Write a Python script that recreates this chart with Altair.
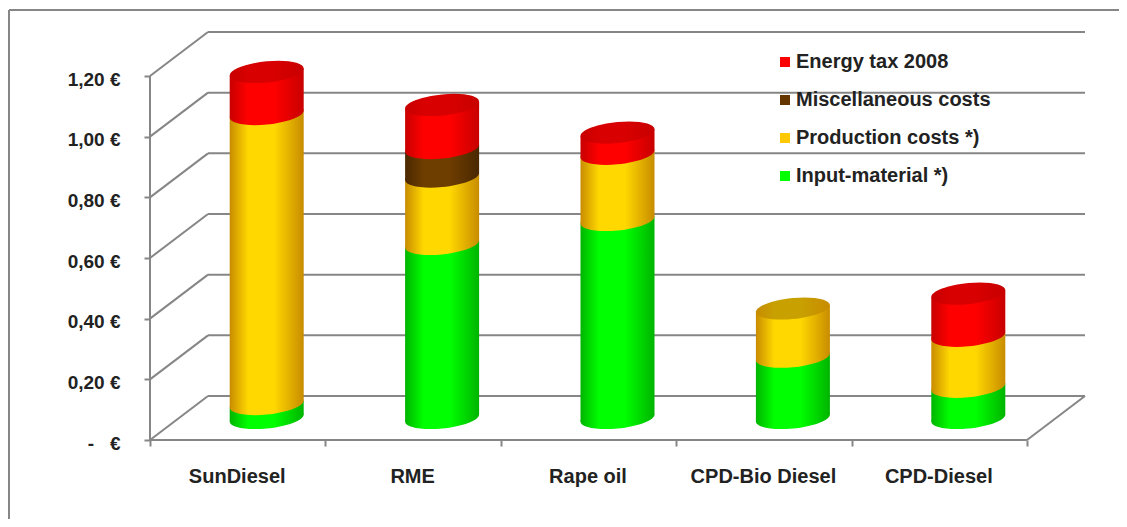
import json
import altair as alt
import pandas as pd

categories = ["SunDiesel", "RME", "Rape oil", "CPD-Bio Diesel", "CPD-Diesel"]
input_material = [0.046, 0.574, 0.653, 0.202, 0.103]
production = [0.956, 0.222, 0.218, 0.159, 0.168]
misc = [0.0, 0.094, 0.0, 0.0, 0.0]
energy_tax = [0.139, 0.142, 0.070, 0.0, 0.139]
tick_values = [0, 0.2, 0.4, 0.6, 0.8, 1.0, 1.2]
tick_labels = ["-\u00a0\u00a0\u00a0€", "0,20 €", "0,40 €", "0,60 €", "0,80 €", "1,00 €", "1,20 €"]

series = [
    ("Input-material *)", input_material, "#00ff00", "#00b400", "#00e000"),
    ("Production costs *)", production, "#ffd800", "#c88c00", "#c8a000"),
    ("Miscellaneous costs", misc, "#6e3d00", "#4a2800", "#5a3000"),
    ("Energy tax 2008", energy_tax, "#ff0000", "#c80000", "#d80000"),
]
legend_order = ["Energy tax 2008", "Miscellaneous costs", "Production costs *)", "Input-material *)"]
legend_colors = ["#ff0000", "#653500", "#ffc800", "#00ff00"]

FONT = "Liberation Sans"
GRAY = "#868686"
TEXT = "#222222"
FS = 20
W, H = 937, 408
CAT_PX = 175.4
UNIT_PX = 303.33
DX = 58 / CAT_PX          # depth of the wall, in category widths
DY = 44 / UNIT_PX         # depth of the wall, in value units
HALF_W = 37 / CAT_PX      # half cylinder width
TILT = 3.5 / UNIT_PX      # rise of the ellipse's right end


def ellipse_path(a=0.285, s=0.095, k=0.5523):
    c = (1.0, -s)
    d = (0.0, a)
    def p(u, v):
        return f"{c[0]*u + d[0]*v:.4f},{c[1]*u + d[1]*v:.4f}"
    return (
        f"M{p(1,0)} C{p(1,k)} {p(k,1)} {p(0,1)} C{p(-k,1)} {p(-1,k)} {p(-1,0)} "
        f"C{p(-1,-k)} {p(-k,-1)} {p(0,-1)} C{p(k,-1)} {p(1,-k)} {p(1,0)} Z"
    )


ELLIPSE = ellipse_path()
ELLIPSE_SIZE = 74 ** 2


def gradient(edge, mid):
    return {
        "gradient": "linear", "x1": 0, "x2": 1, "y1": 0, "y2": 0,
        "stops": [
            {"offset": 0, "color": edge},
            {"offset": 0.25, "color": mid},
            {"offset": 0.6, "color": mid},
            {"offset": 1, "color": edge},
        ],
    }


xscale = alt.Scale(domain=[0, W / CAT_PX], nice=False, zero=False)
yscale = alt.Scale(domain=[0, H / UNIT_PX], nice=False, zero=False)
label_lookup = json.dumps(categories + [""], ensure_ascii=False)
y_lookup = json.dumps(tick_labels, ensure_ascii=False)
x_axis = alt.Axis(
    values=list(range(6)), labelExpr=f"{label_lookup}[datum.value]", title=None,
    domain=False, grid=False, tickColor=GRAY, tickWidth=2, tickSize=6,
    labelOffset=CAT_PX / 2 - 1, labelPadding=20, labelFont=FONT, labelFontSize=FS,
    labelFontWeight="bold", labelColor=TEXT, labelOverlap=False, labelBound=False,
    labelFlush=False, labelAngle=0,
)
y_axis = alt.Axis(
    values=tick_values, labelExpr=f"{y_lookup}[round(datum.value*5)]", title=None,
    domain=False, grid=False, tickColor=GRAY, tickWidth=2, tickSize=6,
    labelPadding=24, labelOffset=3, labelFont=FONT, labelFontSize=19, labelFontWeight="bold",
    labelColor=TEXT, labelOverlap=False, labelBound=False, labelFlush=False,
)
X = alt.X("x:Q", scale=xscale, axis=x_axis)
Y = alt.Y("y:Q", scale=yscale, axis=y_axis)

rule = dict(color=GRAY, strokeWidth=2)

# frame (left and top edges of the picture box)
frame = alt.Chart(pd.DataFrame({"a": [0]})).mark_rule(**rule).encode(
    x=alt.value(-141), x2=alt.value(-141), y=alt.value(-22), y2=alt.value(490))
frame_top = alt.Chart(pd.DataFrame({"a": [0]})).mark_rule(**rule).encode(
    x=alt.value(-141), x2=alt.value(970), y=alt.value(-22), y2=alt.value(-22))

n_cat = len(categories)
side = pd.DataFrame({"x": 0.0, "x2": DX, "y": tick_values, "y2": [v + DY for v in tick_values]})
back = pd.DataFrame({"x": DX, "x2": n_cat + DX, "y": [v + DY for v in tick_values],
                     "y2": [v + DY for v in tick_values]})
edges = pd.DataFrame({
    "x": [0.0, 0.0, float(n_cat)],
    "x2": [0.0, float(n_cat), n_cat + DX],
    "y": [0.0, 0.0, 0.0],
    "y2": [tick_values[-1], 0.0, DY],
})
walls = pd.concat([side, back, edges], ignore_index=True)
wall_layer = alt.Chart(walls).mark_rule(**rule).encode(
    x=X, x2=alt.X2("x2:Q"), y=Y, y2=alt.Y2("y2:Q"))

ELL = dict(filled=True, shape=ELLIPSE, size=ELLIPSE_SIZE, opacity=1, strokeWidth=0)

# cylinders: every stacked segment is a slanted band plus the ellipse at its foot
layers = []
cum = [0.0] * n_cat
tops = {}
for name, vals, mid, edge, top in series:
    rows, feet = [], []
    for i, v in enumerate(vals):
        if v <= 0:
            continue
        cx = i + 0.5 + DX / 2
        base = cum[i] + DY / 2
        for e in (-1, 1):
            rows.append({"cat": categories[i], "x": cx + e * HALF_W,
                         "y": base + v + e * TILT, "y2": base + e * TILT})
        feet.append({"cat": categories[i], "x": cx, "y": base})
        cum[i] += v
        tops[i] = (cx, cum[i] + DY / 2, edge, top)
    layers.append(alt.Chart(pd.DataFrame(feet)).mark_point(
        fill=gradient(edge, mid), **ELL).encode(x=X, y=Y))
    layers.append(alt.Chart(pd.DataFrame(rows)).mark_area(
        fill=gradient(edge, mid)).encode(x=X, y=Y, y2=alt.Y2("y2:Q"), detail="cat:N"))

for i, (cx, y, edge, top) in tops.items():
    layers.append(alt.Chart(pd.DataFrame({"x": [cx], "y": [y]})).mark_point(
        fill=gradient(edge, top), **ELL).encode(x=X, y=Y))

# legend
legend_df = pd.DataFrame({"name": legend_order, "x": [0.0] * 4, "y": [0.0] * 4})
legend_layer = alt.Chart(legend_df).mark_square(size=0, opacity=1).encode(
    x=X, y=Y,
    color=alt.Color("name:N", scale=alt.Scale(domain=legend_order, range=legend_colors),
                    sort=legend_order,
                    legend=alt.Legend(
                        title=None, orient="none", legendX=625, legendY=20,
                        symbolType="square", symbolSize=100, symbolStrokeWidth=0,
                        labelFont=FONT, labelFontSize=FS, labelFontWeight="bold",
                        labelColor=TEXT, rowPadding=18, labelOffset=1, labelLimit=400,
                        padding=0)),
)

chart = alt.layer(wall_layer, frame, frame_top, *layers, legend_layer).properties(
    width=W, height=H, background="white",
    padding={"left": 142, "top": 24, "right": 32, "bottom": 79},
    autosize=alt.AutoSizeParams(type="none"),
).configure_view(stroke=None)

chart.save("out.html", embed_options={"renderer": "svg", "actions": False})
